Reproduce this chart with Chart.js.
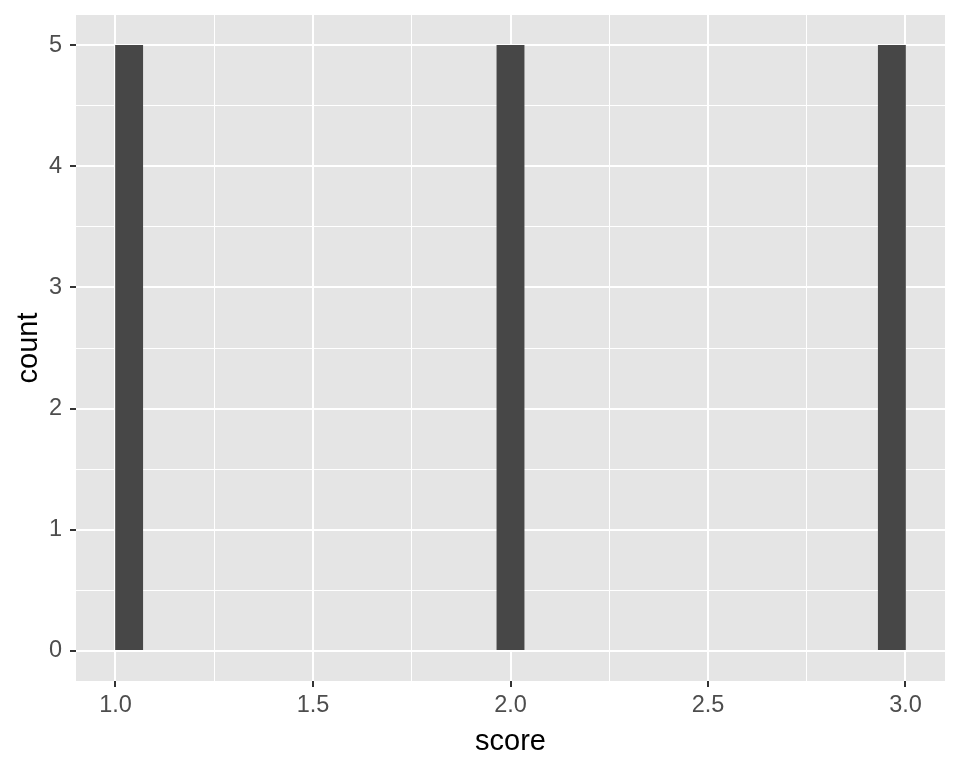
<!DOCTYPE html>
<html>
<head>
<meta charset="utf-8">
<script src="https://cdn.jsdelivr.net/npm/chart.js@4"></script>
<style>
  html, body { margin: 0; padding: 0; background: #fff; }
  #wrap { width: 960px; height: 768px; }
</style>
</head>
<body>
<div id="wrap"><canvas id="hist" width="960" height="768"></canvas></div>
<script>
// histogram of score, 29 bins between 1 and 3
const scoreMin = 1;
const scoreMax = 3;
const counts = [5, 0, 0, 0, 0, 0, 0, 0, 0, 0, 0, 0, 0, 0, 5, 0, 0, 0, 0, 0, 0, 0, 0, 0, 0, 0, 0, 0, 5];
const xTicks = [1.0, 1.25, 1.5, 1.75, 2.0, 2.25, 2.5, 2.75, 3.0];
const yTicks = [0, 0.5, 1, 1.5, 2, 2.5, 3, 3.5, 4, 4.5, 5];

const binWidth = (scoreMax - scoreMin) / counts.length;
const points = counts.map((c, i) => ({ x: scoreMin + binWidth * (i + 0.5), y: c }));

const isMajorX = (v) => Math.abs(v * 2 - Math.round(v * 2)) < 1e-6;
const isMajorY = (v) => Math.abs(v - Math.round(v)) < 1e-6;

const panelBg = {
  id: 'panelBg',
  beforeDraw(chart) {
    const { ctx, chartArea: a } = chart;
    ctx.save();
    ctx.fillStyle = '#E5E5E5';
    ctx.fillRect(a.left, a.top, a.right - a.left, a.bottom - a.top);
    ctx.restore();
  },
};

new Chart(document.getElementById('hist'), {
  type: 'bar',
  data: {
    datasets: [{
      data: points,
      // empty bins draw nothing
      backgroundColor: (c) => (c.raw && c.raw.y > 0 ? '#474747' : 'rgba(0,0,0,0)'),
      borderWidth: 0,
      barPercentage: 1,
      categoryPercentage: 1,
    }],
  },
  options: {
    responsive: false,
    animation: false,
    layout: { padding: { left: 0, top: 15, right: 15, bottom: 0 } },
    plugins: { legend: { display: false }, tooltip: { enabled: false } },
    scales: {
      x: {
        type: 'linear',
        min: 0.9,
        max: 3.1,
        offset: false,
        afterBuildTicks: (s) => { s.ticks = xTicks.map((v) => ({ value: v })); },
        afterFit: (s) => { s.height = 87; s.paddingLeft = 0; s.paddingRight = 0; },
        border: { display: false },
        grid: {
          offset: false,
          color: '#FFFFFF',
          lineWidth: (c) => (isMajorX(c.tick.value) ? 2 : 1),
          drawTicks: true,
          tickLength: 6,
          tickWidth: 2,
          tickColor: (c) => (isMajorX(c.tick.value) ? '#333333' : 'rgba(0,0,0,0)'),
        },
        ticks: {
          autoSkip: false,
          maxRotation: 0,
          padding: 4,
          color: '#4D4D4D',
          font: { family: 'Liberation Sans, Arial, sans-serif', size: 23.5 },
          callback: (v) => (isMajorX(v) ? v.toFixed(1) : ''),
        },
        title: {
          display: true,
          text: 'score',
          color: '#000000',
          font: { family: 'Liberation Sans, Arial, sans-serif', size: 29, lineHeight: 1 },
          padding: { top: 0, bottom: 12 },
        },
      },
      y: {
        type: 'linear',
        min: -0.25,
        max: 5.25,
        afterBuildTicks: (s) => { s.ticks = yTicks.map((v) => ({ value: v })); },
        afterFit: (s) => { s.width = 76; s.paddingTop = 0; s.paddingBottom = 0; },
        border: { display: false },
        grid: {
          color: '#FFFFFF',
          lineWidth: (c) => (isMajorY(c.tick.value) ? 2 : 1),
          drawTicks: true,
          tickLength: 6,
          tickWidth: 2,
          tickColor: (c) => (isMajorY(c.tick.value) ? '#333333' : 'rgba(0,0,0,0)'),
        },
        ticks: {
          autoSkip: false,
          padding: 8,
          color: '#4D4D4D',
          font: { family: 'Liberation Sans, Arial, sans-serif', size: 23.5 },
          callback: (v) => (isMajorY(v) ? String(v) : ''),
        },
        title: {
          display: true,
          text: 'count',
          color: '#000000',
          font: { family: 'Liberation Sans, Arial, sans-serif', size: 29, lineHeight: 1 },
          padding: { top: 14, bottom: 0 },
        },
      },
    },
  },
  plugins: [panelBg],
});
</script>
</body>
</html>
